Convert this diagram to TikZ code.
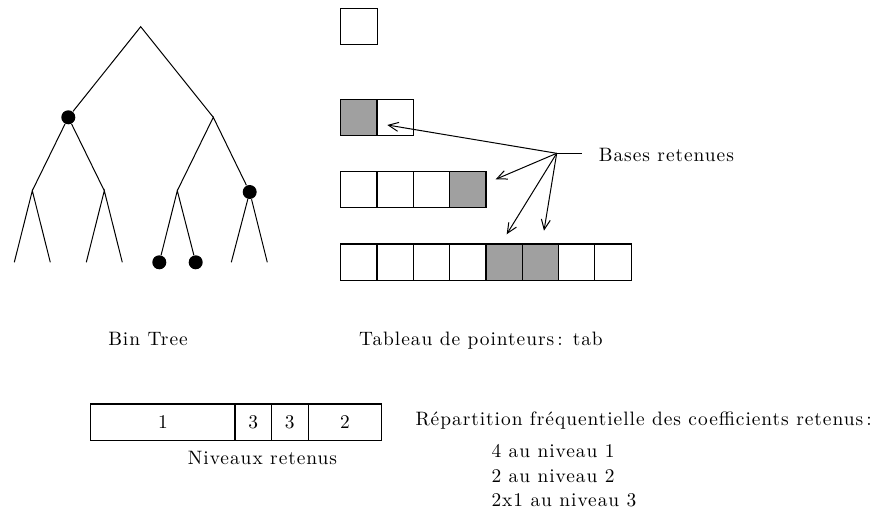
\documentclass[tikz,border=0pt]{standalone}
\usepackage{fontspec}
\usepackage{tikz}
\usetikzlibrary{arrows.meta, positioning, calc}
\newfontfamily\lblfont{lmroman10-regular.otf}[LetterSpace=5]
\definecolor{cellgray}{RGB}{160,160,160}

\tikzset{
    cell/.style={draw,line width=0.6pt,minimum size=18.15pt,inner sep=0pt,outer sep=0pt},
    cellg/.style={cell,fill=cellgray},
    treedot/.style={circle,fill=black,inner sep=0pt,minimum size=7pt},
    seg/.style={draw,line width=0.6pt,minimum height=18.35pt,inner sep=0pt,outer sep=0pt},
    lbl/.style={inner sep=0pt},
}

\begin{document}
\begin{tikzpicture}[x=0.5pt,y=-0.5pt,line width=0.5pt,font=\lblfont\fontsize{9.7}{11}\selectfont]
    \useasboundingbox (0,0) rectangle (875,518);

    % Bin Tree
    \coordinate (r) at (140.7,26.7);
    \node[treedot] (n1) at (68.3,117.3) {};
    \coordinate (n2) at (213.3,117.3);
    \coordinate (n11) at (32.3,190.7);
    \coordinate (n12) at (104.3,190.7);
    \coordinate (n21) at (177.3,190.7);
    \node[treedot] (n22) at (249.7,192) {};
    \foreach \i/\x in {1/14.3,2/50.3,3/86.3,4/122.3,7/231.3,8/267.3}
        \coordinate (f\i) at (\x,262.3);
    \node[treedot] (f5) at (159.3,262.3) {};
    \node[treedot] (f6) at (195.7,262.3) {};
    \draw (n1) -- (r) -- (n2);
    \draw (n11) -- (n1) -- (n12);
    \draw (n21) -- (n2) -- (n22);
    \draw (f1) -- (n11) -- (f2);
    \draw (f3) -- (n12) -- (f4);
    \draw (f5) -- (n21) -- (f6);
    \draw (f7) -- (n22) -- (f8);
    \node[lbl,anchor=base] (bt) at (148,346) {Bin Tree};

    % tab
    \node[cell] (a1) at (359,26.3) {};
    \foreach \s [count=\i] in {cellg,cell}
        \node[\s] (b\i) at ({322.55+36.3*\i},117.7) {};
    \foreach \s [count=\i] in {cell,cell,cell,cellg}
        \node[\s] (c\i) at ({322.55+36.3*\i},189.7) {};
    \foreach \s [count=\i] in {cell,cell,cell,cell,cellg,cellg,cell,cell}
        \node[\s] (d\i) at ({322.55+36.3*\i},262.2) {};
    \node[lbl,anchor=base] (tab) at (481,346) {Tableau de pointeurs\,: tab};

    % Bases retenues
    \coordinate (src) at (556.7,153.3);
    \coordinate (tail) at (582.3,153.3);
    \node[lbl,anchor=base west] (bases) at (598.3,161.7) {Bases retenues};
    \coordinate (tb) at (387.3,125);
    \coordinate (tc) at (495.7,179.3);
    \coordinate (td5) at (506.7,234.3);
    \coordinate (td6) at (544,230.7);
    \draw (src) -- (tail);
    \foreach \t in {tb,tc,td5,td6}
        \draw[-{Straight Barb[length=5pt,width=4.5pt]}] (src) -- (\t);

    % Niveaux retenus
    \node[seg,minimum width=72.15pt,anchor=west] (s1) at (90.7,422.4) {1};
    \node[seg,minimum width=18.15pt,right=0pt of s1] (s2) {3};
    \node[seg,minimum width=18.5pt,right=0pt of s2] (s3) {3};
    \node[seg,minimum width=36.7pt,right=0pt of s3] (s4) {2};
    \node[lbl,anchor=base] (niv) at (262.5,465) {Niveaux retenus};

    % Repartition
    \node[lbl,anchor=base west] (rep) at (415,426) {Répartition fréquentielle des coefficients retenus\,:};
    \node[lbl,anchor=base west] (l1) at (491,458) {4 au niveau 1};
    \node[lbl,anchor=base west] (l2) at (491,483) {2 au niveau 2};
    \node[lbl,anchor=base west] (l3) at (491,507) {2x1 au niveau 3};
\end{tikzpicture}
\end{document}
